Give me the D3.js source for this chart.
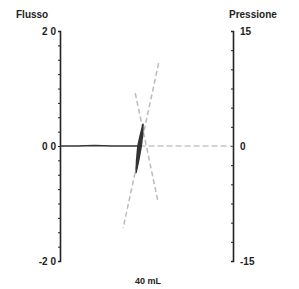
<!DOCTYPE html>
<html><head><meta charset="utf-8">
<script src="https://cdn.jsdelivr.net/npm/d3@7"></script>
<style>body{margin:0;background:#fff}svg{display:block}text{font-family:"Liberation Sans",Arial,sans-serif;fill:#222;font-weight:bold}</style>
</head><body>
<script>
// Volume (mL) / flow (L/s) loop points
const loopVol  = [0, 20, 40, 60, 80, 90, 93, 96, 95.5, 94, 91, 88, 88.5, 90];
const loopFlow = [0, 0.0, 0.01, 0.0, 0.0, 0.0, 0.2, 0.38, 0.2, 0.0, -0.25, -0.46, -0.25, 0];
// zero baseline continuation (lighter)
const baseVol  = [92, 120, 140, 160, 180, 200];
const baseFlow = [0, 0, 0, 0, 0, 0];
// Pressure lines (cmH2O) vs volume
const presAVol = [114, 73];
const presA    = [10.8, -10.7];
const presBVol = [87, 113];
const presB    = [6.9, -7.1];
const flowTicks = [2.0, 0.0, -2.0];
const presTicks = [15, 0, -15];
const scaleLabel = "40 mL";

const W = 299, H = 289;
const svg = d3.select("body").append("svg").attr("width", W).attr("height", H);
const x = d3.scaleLinear().domain([0, 200]).range([60, 233]);
const yF = d3.scaleLinear().domain([-2, 2]).range([261, 31]);
const yP = d3.scaleLinear().domain([-15, 15]).range([261, 31]);

// axes lines
const axL = d3.axisLeft(yF).tickValues(d3.range(-2, 2.01, 0.25)).tickSize(2).tickFormat("");
const axR = d3.axisLeft(yP).tickValues(d3.range(-15, 15.01, 2.5)).tickSize(2).tickFormat("");
const gL = svg.append("g").attr("transform", "translate(60,0)").call(axL);
const gR = svg.append("g").attr("transform", "translate(233,0)").call(axR);
[gL, gR].forEach(g => { g.selectAll("path,line").attr("stroke", "#222"); g.select("path").attr("stroke-width", 1.6); });

// labels
svg.append("text").attr("x", 16).attr("y", 18).attr("font-size", 10).text("Flusso");
svg.append("text").attr("x", 229).attr("y", 18).attr("font-size", 10).text("Pressione");
svg.selectAll(".fl").data(flowTicks).join("text").attr("x", 56).attr("y", d => yF(d) + 4)
  .attr("text-anchor", "end").attr("font-size", 10).text(d => d.toFixed(1).replace(".", " "));
svg.selectAll(".pl").data(presTicks).join("text").attr("x", 240).attr("y", d => yP(d) + 4)
  .attr("font-size", 10).text(d => d === -15 ? "-15" : d);
svg.append("text").attr("x", 148).attr("y", 284).attr("text-anchor", "middle").attr("font-size", 9).text(scaleLabel);

// pressure lines (light gray dashed)
const line = d3.line();
[[presAVol, presA], [presBVol, presB]].forEach(([v, p]) => {
  svg.append("path").attr("d", line(v.map((d, i) => [x(d), yP(p[i])])))
    .attr("fill", "none").attr("stroke", "#bbb").attr("stroke-width", 1.5).attr("stroke-dasharray", "5,3");
});
// baseline continuation
svg.append("path").attr("d", line(baseVol.map((d, i) => [x(d), yF(baseFlow[i])])))
  .attr("fill", "none").attr("stroke", "#aaa").attr("stroke-width", 1.2).attr("stroke-dasharray", "6,3");
// flow loop (dark)
svg.append("path").attr("d", line(loopVol.map((d, i) => [x(d), yF(loopFlow[i])])))
  .attr("fill", "#333").attr("stroke", "#333").attr("stroke-width", 1.5).attr("stroke-linejoin", "round");
</script>
</body></html>
